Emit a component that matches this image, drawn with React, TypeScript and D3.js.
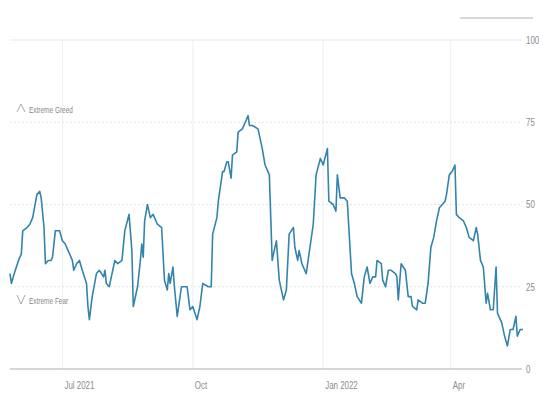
import { useMemo } from 'react';
import * as d3 from 'd3';

// Fear & Greed index
const dates = [
  '2021-05-25', '2021-05-26', '2021-05-28', '2021-05-31', '2021-06-02', '2021-06-03', '2021-06-06', '2021-06-08',
  '2021-06-10', '2021-06-13', '2021-06-15', '2021-06-16', '2021-06-18', '2021-06-19', '2021-06-21', '2021-06-23',
  '2021-06-24', '2021-06-26', '2021-06-29', '2021-07-01', '2021-07-03', '2021-07-05', '2021-07-08', '2021-07-09',
  '2021-07-11', '2021-07-13', '2021-07-15', '2021-07-18', '2021-07-19', '2021-07-20', '2021-07-22', '2021-07-25',
  '2021-07-27', '2021-07-30', '2021-07-31', '2021-08-01', '2021-08-03', '2021-08-05', '2021-08-07', '2021-08-09',
  '2021-08-12', '2021-08-14', '2021-08-17', '2021-08-19', '2021-08-20', '2021-08-23', '2021-08-25', '2021-08-26',
  '2021-08-27', '2021-08-28', '2021-08-30', '2021-09-01', '2021-09-03', '2021-09-06', '2021-09-09', '2021-09-11',
  '2021-09-13', '2021-09-14', '2021-09-15', '2021-09-17', '2021-09-18', '2021-09-20', '2021-09-23', '2021-09-25',
  '2021-09-27', '2021-09-29', '2021-10-01', '2021-10-04', '2021-10-06', '2021-10-08', '2021-10-12', '2021-10-14',
  '2021-10-15', '2021-10-18', '2021-10-19', '2021-10-22', '2021-10-23', '2021-10-25', '2021-10-26', '2021-10-28',
  '2021-10-29', '2021-11-01', '2021-11-02', '2021-11-05', '2021-11-07', '2021-11-09', '2021-11-10', '2021-11-12',
  '2021-11-16', '2021-11-19', '2021-11-21', '2021-11-24', '2021-11-26', '2021-11-29', '2021-12-01', '2021-12-04',
  '2021-12-06', '2021-12-08', '2021-12-11', '2021-12-12', '2021-12-14', '2021-12-15', '2021-12-17', '2021-12-20',
  '2021-12-25', '2021-12-27', '2021-12-30', '2022-01-01', '2022-01-04', '2022-01-05', '2022-01-08', '2022-01-10',
  '2022-01-11', '2022-01-13', '2022-01-16', '2022-01-18', '2022-01-21', '2022-01-23', '2022-01-25', '2022-01-28',
  '2022-01-30', '2022-02-01', '2022-02-03', '2022-02-05', '2022-02-07', '2022-02-08', '2022-02-11', '2022-02-12',
  '2022-02-14', '2022-02-16', '2022-02-18', '2022-02-21', '2022-02-22', '2022-02-23', '2022-02-25', '2022-02-28',
  '2022-03-02', '2022-03-04', '2022-03-05', '2022-03-08', '2022-03-09', '2022-03-12', '2022-03-14', '2022-03-16',
  '2022-03-18', '2022-03-20', '2022-03-22', '2022-03-24', '2022-03-28', '2022-03-29', '2022-03-31', '2022-04-02',
  '2022-04-04', '2022-04-05', '2022-04-07', '2022-04-10', '2022-04-12', '2022-04-14', '2022-04-17', '2022-04-19',
  '2022-04-20', '2022-04-22', '2022-04-24', '2022-04-26', '2022-04-27', '2022-04-29', '2022-05-01', '2022-05-03',
  '2022-05-04', '2022-05-07', '2022-05-09', '2022-05-11', '2022-05-13', '2022-05-15', '2022-05-17', '2022-05-18',
  '2022-05-20', '2022-05-22',
];

const values = [
  29, 26, 29, 33, 35, 42, 43, 44,
  46, 53, 54, 52, 43, 32, 33, 33,
  34, 42, 42, 39, 38, 36, 33, 30,
  32, 33, 30, 26, 19, 15, 22, 29,
  30, 28, 30, 26, 25, 29, 33, 32,
  33, 42, 47, 36, 19, 25, 33, 38,
  34, 45, 50, 46, 47, 44, 43, 27,
  24, 29, 26, 31, 25, 16, 25, 25,
  25, 18, 19, 15, 19, 26, 25, 25,
  41, 46, 51, 60, 60, 63, 63, 58,
  65, 66, 72, 73, 75, 77, 74, 74,
  73, 67, 62, 59, 33, 39, 27, 21,
  24, 41, 43, 37, 33, 36, 32, 29,
  44, 59, 64, 62, 67, 51, 50, 48,
  59, 52, 52, 51, 29, 26, 22, 20,
  28, 31, 26, 28, 28, 33, 32, 27,
  25, 30, 30, 29, 28, 21, 32, 30,
  22, 22, 19, 18, 21, 20, 20, 26,
  37, 40, 45, 49, 51, 53, 59, 60,
  62, 47, 46, 45, 43, 40, 39, 43,
  41, 33, 31, 20, 23, 18, 18, 31,
  17, 14, 10, 7, 12, 12, 16, 10,
  12, 12,
];

const yTicks = [0, 25, 50, 75, 100];
const xTickDates = ['2021-07-01', '2021-10-01', '2022-01-01', '2022-04-01'];
const xTickLabels = ['Jul 2021', 'Oct', 'Jan 2022', 'Apr'];
const zoneLabels = ['Extreme Greed', 'Extreme Fear'];

const W = 543;
const H = 396;
const LINE = '#3384ad';
const FONT = '"Liberation Sans Narrow", "Liberation Sans", Arial, sans-serif';

// condensed label, the reference uses a narrow face
function Narrow({ x, y, size, fill, children }: { x: number; y: number; size: number; fill: string; children: string | number }) {
  return (
    <g transform={`translate(${x},${y}) scale(0.72,1)`}>
      <text dy="0.35em" fontFamily={FONT} fontSize={size} fill={fill}>{children}</text>
    </g>
  );
}

export default function App() {
  const parse = d3.timeParse('%Y-%m-%d');
  const data = useMemo(
    () => dates.map((d, i) => ({ date: parse(d) as Date, value: values[i] })),
    []
  );

  const x = d3.scaleTime()
    .domain(d3.extent(data, d => d.date) as [Date, Date])
    .range([10, 523]);
  const y = d3.scaleLinear().domain([0, 100]).range([369, 40]);

  const line = d3.line<{ date: Date; value: number }>()
    .x(d => x(d.date))
    .y(d => y(d.value));

  const gridRight = 522;

  return (
    <svg width={W} height={H} style={{ position: 'absolute', left: 0, top: 0, background: '#fff' }}>
      {/* top bar (legend stub) */}
      <line x1={460} x2={533} y1={18} y2={18} stroke="#d9d9d9" strokeWidth={2} />

      {/* vertical month grid */}
      {xTickDates.map(d => (
        <line key={d} x1={x(parse(d) as Date)} x2={x(parse(d) as Date)} y1={y(100)} y2={y(0)}
          stroke="#efefef" strokeWidth={1} />
      ))}

      {/* horizontal grid */}
      {yTicks.map(t => (
        <line key={t} x1={10} x2={gridRight} y1={y(t)} y2={y(t)}
          stroke={t === 0 ? '#c8c8c8' : t === 100 ? '#e8e8e8' : '#e3e3e3'}
          strokeWidth={t === 0 ? 1.5 : 1}
          strokeDasharray={t === 0 || t === 100 ? undefined : '2,2'} />
      ))}

      {/* right axis labels */}
      {yTicks.map(t => (
        <Narrow key={t} x={526} y={y(t)} size={11} fill="#8c8c8c">{t}</Narrow>
      ))}

      {/* bottom labels */}
      {xTickDates.map((d, i) => (
        <Narrow key={d} x={x(parse(d) as Date) + 2} y={385} size={11} fill="#8c8c8c">
          {xTickLabels[i]}
        </Narrow>
      ))}

      {/* zone labels */}
      <path d="M17,112 L21,104 L25,112" fill="none" stroke="#aaa" strokeWidth={1} />
      <Narrow x={29} y={110} size={9} fill="#888">{zoneLabels[0]}</Narrow>
      <path d="M17,295 L21,304 L25,295" fill="none" stroke="#aaa" strokeWidth={1} />
      <Narrow x={29} y={301} size={9} fill="#888">{zoneLabels[1]}</Narrow>

      {/* series */}
      <path d={line(data) || ''} fill="none" stroke={LINE} strokeWidth={1.6} strokeLinejoin="round" />
    </svg>
  );
}
